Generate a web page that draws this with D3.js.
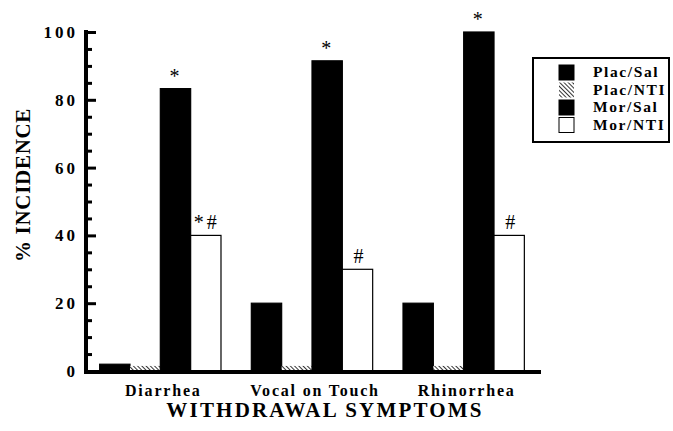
<!DOCTYPE html>
<html>
<head>
<meta charset="utf-8">
<script src="https://cdn.jsdelivr.net/npm/d3@7"></script>
<style>
  body { margin: 0; background: #fff; }
  text { font-family: "Liberation Serif", "Times New Roman", serif; font-weight: bold; fill: #000; }
</style>
</head>
<body>
<div class="chart"></div>
<script>
// data
const categories = ['Diarrhea', 'Vocal on Touch', 'Rhinorrhea'];
const groups = ['Plac/Sal', 'Plac/NTI', 'Mor/Sal', 'Mor/NTI'];
const placSal = [2, 20, 20];
const placNti = [1.5, 1.5, 1.5];
const morSal = [83.3, 91.5, 100];
const morNti = [40, 30, 40];
const marksMorSal = ['*', '*', '*'];
const marksMorNti = ['*#', '#', '#'];
const yTicks = [0, 20, 40, 60, 80, 100];

const dims = { width: 673, height: 431 };
const margin = { left: 86, right: 121, top: 32, bottom: 60 };

const svg = d3.select('.chart')
    .append('svg')
    .attr('width', dims.width)
    .attr('height', dims.height);

// hatch pattern for Plac/NTI
const defs = svg.append('defs');
const pat = defs.append('pattern')
    .attr('id', 'hatch')
    .attr('patternUnits', 'userSpaceOnUse')
    .attr('width', 3).attr('height', 3)
    .attr('patternTransform', 'rotate(-45)');
pat.append('rect').attr('width', 3).attr('height', 3).attr('fill', '#fff');
pat.append('line')
    .attr('x1', 0).attr('y1', 0).attr('x2', 0).attr('y2', 3)
    .attr('stroke', '#000').attr('stroke-width', 1.6);

const fills = { 'Plac/Sal': '#000', 'Plac/NTI': 'url(#hatch)', 'Mor/Sal': '#000', 'Mor/NTI': '#fff' };

const x0 = d3.scaleBand()
    .domain(categories)
    .range([margin.left, dims.width - margin.right - 14])
    .paddingInner(0.2)
    .paddingOuter(0.09);

const x1 = d3.scaleBand()
    .domain(groups)
    .range([0, x0.bandwidth()]);

const y = d3.scaleLinear()
    .domain([0, 100])
    .range([dims.height - margin.bottom, margin.top]);

//build rows for the bars
const series = [placSal, placNti, morSal, morNti];
const rows = [];
categories.forEach((c, i) => {
    groups.forEach((g, j) => {
        let mark = '';
        if (g === 'Mor/Sal') mark = marksMorSal[i];
        if (g === 'Mor/NTI') mark = marksMorNti[i];
        rows.push({ cat: c, group: g, value: series[j][i], mark });
    });
});

const graph = svg.append('g');

graph.selectAll('rect.bar')
    .data(rows)
    .enter()
    .append('rect')
    .attr('class', 'bar')
    .attr('x', d => x0(d.cat) + x1(d.group))
    .attr('y', d => y(d.value))
    .attr('width', x1.bandwidth())
    .attr('height', d => y(0) - y(d.value))
    .attr('fill', d => fills[d.group])
    .attr('stroke', d => d.group === 'Plac/NTI' ? 'none' : '#000')
    .attr('stroke-width', 1.2);

// significance marks
graph.selectAll('text.mark')
    .data(rows.filter(d => d.mark))
    .enter()
    .append('text')
    .attr('class', 'mark')
    .attr('x', d => x0(d.cat) + x1(d.group) + x1.bandwidth() / 2 + (d.mark === '*' ? -1 : 1))
    .attr('y', d => y(d.value) - 6)
    .attr('text-anchor', 'middle')
    .attr('font-size', 20)
    .style('font-weight', 'normal')
    .style('letter-spacing', d => d.mark.length > 1 ? '3px' : '0px')
    .text(d => d.mark);

// y axis
const yAxis = d3.axisLeft(y)
    .tickValues(d3.range(0, 101, 5))
    .tickSize(0)
    .tickFormat('');
const yg = svg.append('g')
    .attr('transform', `translate(${margin.left},0)`)
    .call(yAxis);
yg.select('.domain').remove();
yg.append('line')
    .attr('x1', 0).attr('x2', 0)
    .attr('y1', y(100) - 2).attr('y2', y(0) + 2)
    .attr('stroke', '#000').attr('stroke-width', 4);
yg.selectAll('.tick line')
    .attr('x1', 0)
    .attr('x2', d => d % 20 === 0 ? 10 : 6)
    .attr('stroke', '#000')
    .attr('stroke-width', 3);

svg.append('g').selectAll('text')
    .data(yTicks)
    .enter()
    .append('text')
    .attr('x', margin.left - 8)
    .attr('y', d => y(d) + 6)
    .attr('text-anchor', 'end')
    .attr('font-size', 17)
    .style('letter-spacing', '3px')
    .text(d => d);

// x axis
svg.append('line')
    .attr('x1', margin.left - 2).attr('x2', x0.range()[1] + 3)
    .attr('y1', y(0) + 1).attr('y2', y(0) + 1)
    .attr('stroke', '#000').attr('stroke-width', 4);

svg.append('g').selectAll('text')
    .data(categories)
    .enter()
    .append('text')
    .attr('x', d => x0(d) + x0.bandwidth() / 2 + 3)
    .attr('y', 396)
    .attr('text-anchor', 'middle')
    .attr('font-size', 16)
    .style('letter-spacing', '1.8px')
    .text(d => d);

svg.append('text')
    .attr('x', 325)
    .attr('y', 417)
    .attr('text-anchor', 'middle')
    .attr('font-size', 21)
    .style('letter-spacing', '2.2px')
    .text('WITHDRAWAL SYMPTOMS');

svg.append('text')
    .attr('transform', 'translate(30,185) rotate(-90)')
    .attr('text-anchor', 'middle')
    .attr('font-size', 21)
    .style('letter-spacing', '0.7px')
    .text('% INCIDENCE');

//legend
const legendGroup = svg.append('g');
legendGroup.append('rect')
    .attr('x', 533).attr('y', 58)
    .attr('width', 136).attr('height', 84)
    .attr('fill', '#fff')
    .attr('stroke', '#000').attr('stroke-width', 2);

const items = legendGroup.selectAll('g.item')
    .data(groups)
    .enter()
    .append('g')
    .attr('class', 'item')
    .attr('transform', (d, i) => `translate(559, ${65 + i * 17.5})`);

items.append('rect')
    .attr('width', 15).attr('height', 15)
    .attr('fill', d => fills[d])
    .attr('stroke', d => d === 'Plac/NTI' ? 'none' : '#000')
    .attr('stroke-width', 1);

items.append('text')
    .attr('x', 34)
    .attr('y', 12)
    .attr('font-size', 15.5)
    .style('letter-spacing', '1.6px')
    .text(d => d);
</script>
</body>
</html>
